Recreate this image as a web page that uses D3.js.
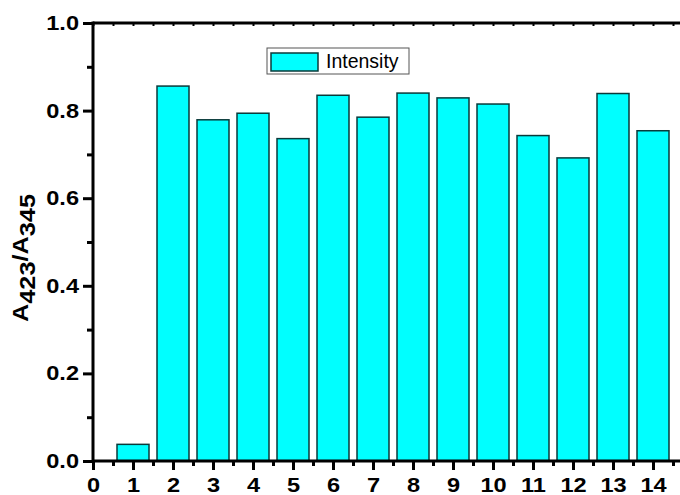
<!DOCTYPE html>
<html><head><meta charset="utf-8">
<script src="https://cdn.jsdelivr.net/npm/d3@7"></script>
<style>body{margin:0;background:#fff}svg{display:block}</style>
</head><body>
<script>
const categories = [1,2,3,4,5,6,7,8,9,10,11,12,13,14];
const intensity = [0.038,0.856,0.779,0.794,0.736,0.835,0.785,0.840,0.829,0.815,0.743,0.692,0.839,0.754];
const xTicks = [0,1,2,3,4,5,6,7,8,9,10,11,12,13,14];
const yTicks = [0.0,0.2,0.4,0.6,0.8,1.0];
const seriesName = "Intensity";

const W=680,H=495;
const svg=d3.select("body").append("svg").attr("width",W).attr("height",H);
const x=d3.scaleLinear().domain([0,14.75]).range([93,683]);
const y=d3.scaleLinear().domain([0,1]).range([461,23]);
const font="'Liberation Sans',Arial,sans-serif";
const SX=1.15;

// bars
svg.append("g").selectAll("rect").data(categories).join("rect")
  .attr("x",(d)=>x(d-0.4)).attr("width",x(0.8)-x(0))
  .attr("y",(d,i)=>y(intensity[i])).attr("height",(d,i)=>y(0)-y(intensity[i]))
  .attr("fill","#00ffff").attr("stroke","#0a3a3a").attr("stroke-width",1.5);

const minorX=d3.range(0.5,14.75,1);
const minorY=d3.range(0.1,1,0.2);

function styleAxis(g,sw){g.select(".domain").remove();g.selectAll("line").attr("stroke","#000").attr("stroke-width",sw);
  g.selectAll("text").attr("font-family",font).attr("font-weight","bold").attr("font-size",20.5).attr("fill","#000");}

svg.append("g").attr("transform","translate(0,461)")
  .call(d3.axisBottom(x).tickValues(xTicks).tickFormat(d3.format("d")).tickSize(9).tickPadding(7))
  .call(g=>styleAxis(g,3))
  .call(g=>g.selectAll("text").attr("transform",`scale(${SX},1)`));
svg.append("g").attr("transform","translate(0,461)")
  .call(d3.axisBottom(x).tickValues(minorX).tickFormat("").tickSize(5))
  .call(g=>styleAxis(g,3));
svg.append("g").attr("transform","translate(93,0)")
  .call(d3.axisLeft(y).tickValues(yTicks).tickFormat(d3.format(".1f")).tickSize(10).tickPadding(4))
  .call(g=>styleAxis(g,3))
  .call(g=>g.selectAll("text").attr("x",-14/SX).attr("transform",`scale(${SX},1)`));
svg.append("g").attr("transform","translate(93,0)")
  .call(d3.axisLeft(y).tickValues(minorY).tickFormat("").tickSize(6))
  .call(g=>styleAxis(g,3));
svg.append("g").attr("transform","translate(0,23)")
  .call(d3.axisBottom(x).tickValues(d3.range(0,14.75,0.5)).tickFormat("").tickSize(3))
  .call(g=>styleAxis(g,2));

svg.append("line").attr("x1",93).attr("x2",680).attr("y1",461).attr("y2",461).attr("stroke","#000").attr("stroke-width",3);
svg.append("line").attr("x1",93).attr("x2",680).attr("y1",23).attr("y2",23).attr("stroke","#000").attr("stroke-width",3);
svg.append("line").attr("x1",93).attr("x2",93).attr("y1",21.5).attr("y2",462.5).attr("stroke","#000").attr("stroke-width",3);

// y label
const yl=svg.append("text").attr("transform",`translate(28,258) rotate(-90) scale(${SX},1)`)
  .attr("text-anchor","middle").attr("font-family",font).attr("font-weight","bold").attr("font-size",22).attr("fill","#000");
yl.append("tspan").text("A");
yl.append("tspan").attr("dy",7).text("423");
yl.append("tspan").attr("dy",-7).text("/A");
yl.append("tspan").attr("dy",7).text("345");

// legend
const lg=svg.append("g");
lg.append("rect").attr("x",267).attr("y",48).attr("width",142).attr("height",26).attr("fill","#fff").attr("stroke","#555").attr("stroke-width",1);
lg.append("rect").attr("x",271).attr("y",53).attr("width",47).attr("height",18).attr("fill","#00ffff").attr("stroke","#0a3a3a").attr("stroke-width",1.5);
lg.append("text").attr("x",326).attr("y",68).attr("font-family",font).attr("font-size",19.5).attr("fill","#000").text(seriesName);
</script>
</body></html>
